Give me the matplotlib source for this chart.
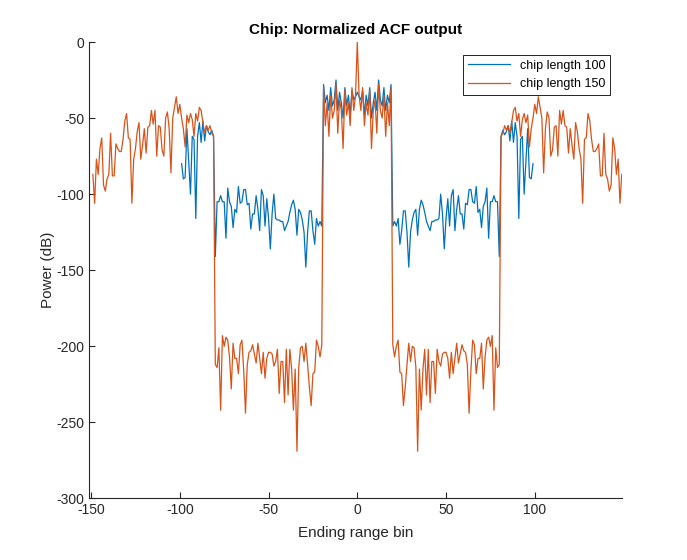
import matplotlib

matplotlib.use("Agg")
import matplotlib.pyplot as plt
import numpy as np

# Values, lag -N+1 .. 0 (left half). The ACF is even,
# so the right half is the same values mirrored.
chip100_outer = [-80, -90, -89, -57, -78, -100, -62, -64, -116, -62, -53, -66, -52, -65,
                 -55, -59, -61, -58, -62]
chip100_mid = [-141, -105, -105, -101, -105, -105, -129, -96, -105, -108, -122, -110, -112,
               -95, -106, -105, -97, -97, -107, -106, -123, -113, -113, -101, -110, -124,
               -97, -101, -121, -103, -116, -136, -113, -100, -116, -117, -117, -118, -118,
               -124, -121, -118, -112, -107, -104, -110, -127, -110, -112, -117, -125, -148,
               -125, -111, -111, -124, -133, -116, -121, -118, -121]
chip100_center = [-28, -40, -35, -45, -30, -42, -38, -25, -45, -33, -40, -50, -30, -42, -35,
                  -48, -32, -38, -36, -33]

chip150_outer = [-87, -106, -77, -87, -70, -63, -94, -98, -90, -87, -60, -88, -88, -67, -70,
                 -72, -72, -64, -52, -47, -63, -64, -106, -77, -70, -59, -53, -77, -68, -57,
                 -73, -56, -55, -45, -54, -45, -75, -55, -56, -71, -75, -50, -46, -57, -86,
                 -50, -43, -36, -47, -41, -50, -57, -69, -48, -53, -47, -51, -62, -47, -52,
                 -43, -45, -53, -60, -55, -58, -55, -60, -62]
chip150_mid = [-212, -214, -201, -242, -193, -200, -194, -196, -207, -228, -198, -208, -208,
               -218, -199, -196, -216, -244, -212, -204, -203, -199, -205, -211, -198, -208,
               -218, -204, -221, -208, -204, -204, -205, -213, -210, -202, -231, -210, -210,
               -237, -202, -232, -202, -215, -242, -215, -269, -214, -201, -200, -210, -198,
               -212, -227, -239, -218, -217, -196, -200, -207, -199]
chip150_center = [-30, -55, -40, -62, -35, -50, -45, -28, -60, -38, -45, -70, -32, -48, -40,
                  -55, -30, -45, -35, 0]


def full_acf(*parts):
    half = [v for part in parts for v in part]
    values = half + half[-2::-1]
    lags = np.arange(len(values)) - (len(half) - 1)
    return lags, np.array(values, dtype=float)


lag100, acf100 = full_acf(chip100_outer, chip100_mid, chip100_center)
lag150, acf150 = full_acf(chip150_outer, chip150_mid, chip150_center)

plt.rcParams["font.family"] = ["Liberation Sans", "DejaVu Sans"]
plt.rcParams["axes.unicode_minus"] = False
fig = plt.figure(figsize=(6.87, 5.6), dpi=100)
ax = fig.add_axes([0.13, 0.11, 0.775, 0.815])

ax.plot(lag100, acf100, color="#0072BD", lw=0.9, label="chip length 100")
ax.plot(lag150, acf150, color="#D95319", lw=0.9, label="chip length 150")

ax.set_xlim(-151, 149)
ax.set_ylim(-300, 0)
ax.set_xticks([-150, -100, -50, 0, 50, 100])
ax.set_yticks(np.arange(-300, 1, 50))
ax.set_title("Chip: Normalized ACF output", fontsize=11, fontweight="bold", color="black")
ax.set_xlabel("Ending range bin", fontsize=11, color="#262626", labelpad=6)
ax.set_ylabel("Power (dB)", fontsize=11, color="#262626", labelpad=1)

for side in ("top", "right"):
    ax.spines[side].set_visible(False)
for side in ("left", "bottom"):
    ax.spines[side].set_color("#262626")
    ax.spines[side].set_linewidth(0.8)
ax.tick_params(direction="in", length=4, width=0.8, colors="#262626", labelsize=10)

leg = ax.legend(loc="upper right", bbox_to_anchor=(0.978, 0.972), borderaxespad=0,
                fontsize=9, handlelength=3.3, fancybox=False, framealpha=1,
                edgecolor="black")
leg.get_frame().set_linewidth(0.6)

fig.savefig("out.png", dpi=100)
plt.close(fig)
